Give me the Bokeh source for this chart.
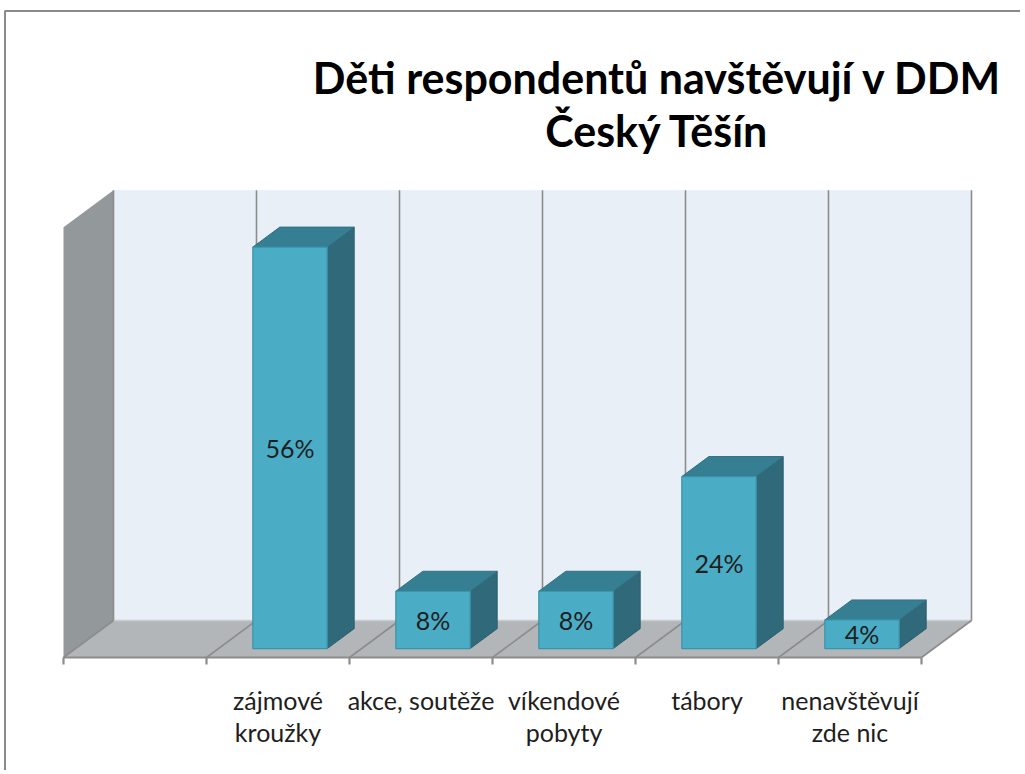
from bokeh.plotting import figure
from bokeh.models import Range1d
from bokeh.core.properties import value
from bokeh.embed import file_html
from bokeh.resources import INLINE

# ---- data ----
categories = ["", "zájmové\nkroužky", "akce, soutěže", "víkendové\npobyty", "tábory", "nenavštěvují\nzde nic"]
values = [None, 56, 8, 8, 24, 4]
title_lines = ["Děti respondentů navštěvují v DDM", "Český Těšín"]
y_max = 60

# ---- layout constants ----
W, H = 1020, 770
PX_CAT = 143.0          # pixels per category
PX_PCT = 7.17           # pixels per percent
FRONT_LEFT = 63.0       # px of floor front-left corner
FRONT_BOTTOM = 657.0    # px (from top) of floor front edge
DX = 50.0 / PX_CAT      # depth offset in category units
DY = 37.0 / PX_PCT      # depth offset in percent units
BAR_HALF = 0.26
F_DEPTH, B_DEPTH = 0.24, 0.78

x0r = -FRONT_LEFT / PX_CAT
y0r = -(H - FRONT_BOTTOM) / PX_PCT

def px2x(px):
    return x0r + px / PX_CAT

def py2y(py):  # py from top
    return y0r + (H - py) / PX_PCT

FONT = "Lato"
TXT = "#1e1e1e"
GRID = "#8c8c8c"

p = figure(width=W, height=H, output_backend="svg", toolbar_location=None,
           x_range=Range1d(x0r, x0r + W / PX_CAT), y_range=Range1d(y0r, y0r + H / PX_PCT),
           min_border=0, x_axis_location=None, y_axis_location=None,
           outline_line_color=None, background_fill_color="white", border_fill_color="white")
p.grid.visible = False

n = len(categories)

# back wall
p.patch([DX, n + DX, n + DX, DX], [DY, DY, y_max + DY, y_max + DY],
        fill_color="#e8eff7", line_color=None)
# side wall
p.patch([0, DX, DX, 0], [0, DY, y_max + DY, y_max], fill_color="#93989b", line_color=None)
# floor
p.patch([0, n, n + DX, DX], [0, 0, DY, DY], fill_color="#b3b6b9", line_color=None)
# floor back line
p.line([DX, n + DX], [DY, DY], line_color="#c9ccd0", line_width=1.5)

# gridlines on back wall and floor diagonals
p.segment(x0=[k + DX for k in range(n + 1)], y0=[DY] * (n + 1),
          x1=[k + DX for k in range(n + 1)], y1=[y_max + DY] * (n + 1),
          line_color=GRID, line_width=1.6)
p.segment(x0=list(range(n + 1)), y0=[0] * (n + 1),
          x1=[k + DX for k in range(n + 1)], y1=[DY] * (n + 1),
          line_color=GRID, line_width=1.6)
# front edge + ticks
p.line([0, n], [0, 0], line_color=GRID, line_width=2.2)
p.segment(x0=list(range(n + 1)), y0=[0] * (n + 1), x1=list(range(n + 1)),
          y1=[-7 / PX_PCT] * (n + 1), line_color=GRID, line_width=2.2)

# bars
fl, fr, fb, ft = [], [], [], []
top_xs, top_ys, side_xs, side_ys = [], [], [], []
lab_x, lab_y, lab_t = [], [], []
for i, v in enumerate(values):
    if v is None:
        continue
    xa = i + 0.5 - BAR_HALF
    xb = i + 0.5 + BAR_HALF
    fx, fy = F_DEPTH * DX, F_DEPTH * DY
    bx, by = B_DEPTH * DX, B_DEPTH * DY
    fl.append(xa + fx); fr.append(xb + fx); fb.append(fy); ft.append(v + fy)
    top_xs.append([xa + fx, xb + fx, xb + bx, xa + bx])
    top_ys.append([v + fy, v + fy, v + by, v + by])
    side_xs.append([xb + fx, xb + bx, xb + bx, xb + fx])
    side_ys.append([fy, by, v + by, v + fy])
    lab_x.append(i + 0.5 + fx)
    lab_y.append(v / 2 + fy)
    lab_t.append(f"{v}%")

p.patches(side_xs, side_ys, fill_color="#30697a", line_color="#2b5f6e", line_width=1)
p.patches(top_xs, top_ys, fill_color="#367f92", line_color="#2f7283", line_width=1)
p.quad(left=fl, right=fr, bottom=fb, top=ft, fill_color="#4bacc6", line_color="#3a93aa", line_width=1.2)

p.text(x=lab_x, y=lab_y, text=lab_t, text_font=value(FONT), text_font_size="25px",
       text_color=TXT, text_align="center", text_baseline="middle")

# category labels
p.text(x=[i + 0.5 for i in range(n)], y=[0] * n, text=categories, y_offset=27,
       text_font=value(FONT), text_font_size="25px", text_color=TXT,
       text_align="center", text_baseline="top", text_line_height=1.08)

# title
p.text(x=[px2x(657)] * 2, y=[py2y(77), py2y(130)], text=title_lines,
       text_font=value(FONT), text_font_size="43px", text_font_style="bold",
       text_color="#000000", text_align="center", text_baseline="middle")

# chart border (left and top)
p.line([px2x(4.5), px2x(4.5), px2x(W)], [py2y(H), py2y(10.5), py2y(10.5)],
       line_color="#8a8a8a", line_width=2)

open("out.html", "w").write(file_html(p, INLINE))
